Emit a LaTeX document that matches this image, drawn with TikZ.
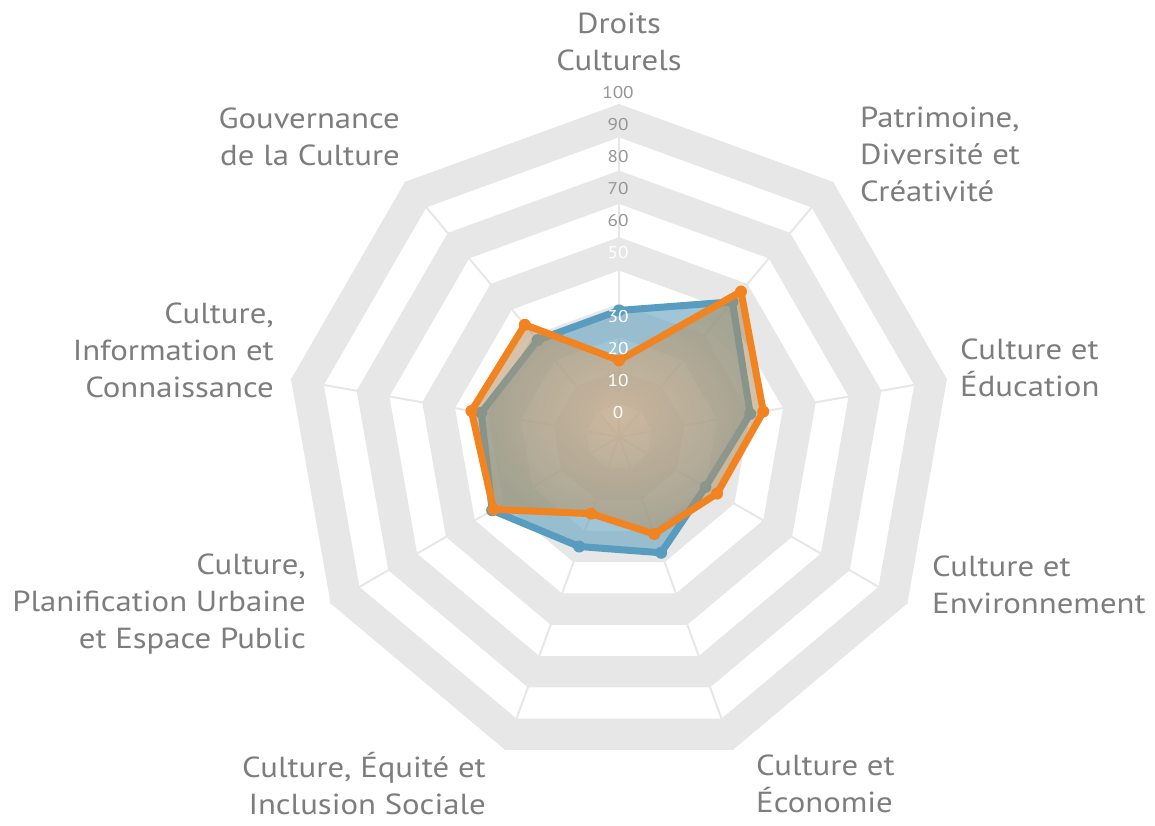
\documentclass[tikz,border=0pt]{standalone}
\usepackage{fontspec}
\setmainfont{PT Sans}[FakeStretch=1.13]
\definecolor{bandgray}{RGB}{230,231,230}
\definecolor{txtgray}{RGB}{125,125,125}
\definecolor{tickgray}{RGB}{150,150,150}
\definecolor{serblue}{RGB}{88,156,192}
\definecolor{fillblue}{RGB}{120,172,198}
\definecolor{serorange}{RGB}{241,131,33}
\definecolor{orangein}{RGB}{245,175,115}
\definecolor{orangeout}{RGB}{170,140,95}

\begin{document}
\begin{tikzpicture}[
    x = 3.33pt, y = 3.33pt,
    band/.style = {fill = bandgray, even odd rule},
    spoke/.style = {draw = bandgray, line width = 2pt},
    axislabel/.style = {text = txtgray, inner sep = 0pt, font = \fontsize{29}{37}\selectfont},
    ticklabel/.style = {inner sep = 0pt, font = \fontsize{17}{17}\selectfont},
    serline/.style = {line width = 7pt, line join = round}]

\useasboundingbox (-619pt,-389pt) rectangle (536pt,437pt);

\fill[band] (90:100) -- (50:100) -- (10:100) -- (-30:100) -- (-70:100) -- (-110:100) -- (-150:100) -- (170:100) -- (130:100) -- cycle
	  (90:90) -- (50:90) -- (10:90) -- (-30:90) -- (-70:90) -- (-110:90) -- (-150:90) -- (170:90) -- (130:90) -- cycle;
\fill[band] (90:80) -- (50:80) -- (10:80) -- (-30:80) -- (-70:80) -- (-110:80) -- (-150:80) -- (170:80) -- (130:80) -- cycle
	  (90:70) -- (50:70) -- (10:70) -- (-30:70) -- (-70:70) -- (-110:70) -- (-150:70) -- (170:70) -- (130:70) -- cycle;
\fill[band] (90:60) -- (50:60) -- (10:60) -- (-30:60) -- (-70:60) -- (-110:60) -- (-150:60) -- (170:60) -- (130:60) -- cycle
	  (90:50) -- (50:50) -- (10:50) -- (-30:50) -- (-70:50) -- (-110:50) -- (-150:50) -- (170:50) -- (130:50) -- cycle;
\fill[band] (90:40) -- (50:40) -- (10:40) -- (-30:40) -- (-70:40) -- (-110:40) -- (-150:40) -- (170:40) -- (130:40) -- cycle
	  (90:30) -- (50:30) -- (10:30) -- (-30:30) -- (-70:30) -- (-110:30) -- (-150:30) -- (170:30) -- (130:30) -- cycle;
\fill[band] (90:20) -- (50:20) -- (10:20) -- (-30:20) -- (-70:20) -- (-110:20) -- (-150:20) -- (170:20) -- (130:20) -- cycle
	  (90:10) -- (50:10) -- (10:10) -- (-30:10) -- (-70:10) -- (-110:10) -- (-150:10) -- (170:10) -- (130:10) -- cycle;

\coordinate (ctr) at (0,0);
\draw[spoke] (ctr) -- (90:100) (ctr) -- (50:100) (ctr) -- (10:100)
	  (ctr) -- (-30:100) (ctr) -- (-70:100) (ctr) -- (-110:100)
	  (ctr) -- (-150:100) (ctr) -- (170:100) (ctr) -- (130:100);

\coordinate (b0) at (90:38);
\coordinate (b1) at (50:53);
\coordinate (b2) at (10:40);
\coordinate (b3) at (-30:30);
\coordinate (b4) at (-70:37);
\coordinate (b5) at (-110:35);
\coordinate (b6) at (-150:44);
\coordinate (b7) at (170:42);
\coordinate (b8) at (130:38);

\coordinate (o0) at (90:23);
\coordinate (o1) at (50:57);
\coordinate (o2) at (10:44);
\coordinate (o3) at (-30:34);
\coordinate (o4) at (-70:31);
\coordinate (o5) at (-110:24.5);
\coordinate (o6) at (-150:43.5);
\coordinate (o7) at (170:45);
\coordinate (o8) at (130:44);

\fill[fillblue, fill opacity = 0.7] (b0) -- (b1) -- (b2) -- (b3) -- (b4) -- (b5) -- (b6) -- (b7) -- (b8) -- cycle;
\draw[serline, serblue] (b0) -- (b1) -- (b2) -- (b3) -- (b4) -- (b5) -- (b6) -- (b7) -- (b8) -- cycle;
\fill[serblue] (b0) circle (6pt) (b1) circle (6pt) (b2) circle (6pt) (b3) circle (6pt) (b4) circle (6pt)
	  (b5) circle (6pt) (b6) circle (6pt) (b7) circle (6pt) (b8) circle (6pt);

\shade[inner color = orangein, outer color = orangeout, fill opacity = 0.55]
	  (o0) -- (o1) -- (o2) -- (o3) -- (o4) -- (o5) -- (o6) -- (o7) -- (o8) -- cycle;
\draw[serline, serorange] (o0) -- (o1) -- (o2) -- (o3) -- (o4) -- (o5) -- (o6) -- (o7) -- (o8) -- cycle;
\fill[serorange] (o0) circle (6pt) (o1) circle (6pt) (o2) circle (6pt) (o3) circle (6pt) (o4) circle (6pt)
	  (o5) circle (6pt) (o6) circle (6pt) (o7) circle (6pt) (o8) circle (6pt);

\path (-1pt,344pt) node[ticklabel, text = tickgray](t100) {100}
	  (-1pt,312pt) node[ticklabel, text = tickgray](t90) {90}
	  (-1pt,280pt) node[ticklabel, text = tickgray](t80) {80}
	  (-1pt,248pt) node[ticklabel, text = tickgray](t70) {70}
	  (-1pt,216pt) node[ticklabel, text = tickgray](t60) {60}
	  (-1pt,184pt) node[ticklabel, text = white](t50) {50}
	  (-1pt,120pt) node[ticklabel, text = white](t30) {30}
	  (-1pt,88pt) node[ticklabel, text = white](t20) {20}
	  (-1pt,56pt) node[ticklabel, text = white](t10) {10}
	  (-1pt,24pt) node[ticklabel, text = white](t0) {0};

\path (0pt,395pt) node[axislabel, align = center](lDroits) {Droits\\Culturels}
	  (241pt,283pt) node[axislabel, anchor = west, align = left](lPatrimoine) {Patrimoine,\\Diversité et\\Créativité}
	  (341pt,69pt) node[axislabel, anchor = west, align = left](lEducation) {Culture et\\Éducation}
	  (313pt,-147.5pt) node[axislabel, anchor = west, align = left](lEnvironnement) {Culture et\\Environnement}
	  (137pt,-346.5pt) node[axislabel, anchor = west, align = left](lEconomie) {Culture et\\Économie}
	  (-133pt,-346.5pt) node[axislabel, anchor = east, align = right](lEquite) {Culture, Équité et\\Inclusion Sociale}
	  (-313pt,-167pt) node[axislabel, anchor = east, align = right](lPlanification) {Culture,\\Planification Urbaine\\et Espace Public}
	  (-345pt,86.5pt) node[axislabel, anchor = east, align = right](lInformation) {Culture,\\Information et\\Connaissance}
	  (-219pt,300.5pt) node[axislabel, anchor = east, align = right](lGouvernance) {Gouvernance\\de la Culture};
\end{tikzpicture}
\end{document}
